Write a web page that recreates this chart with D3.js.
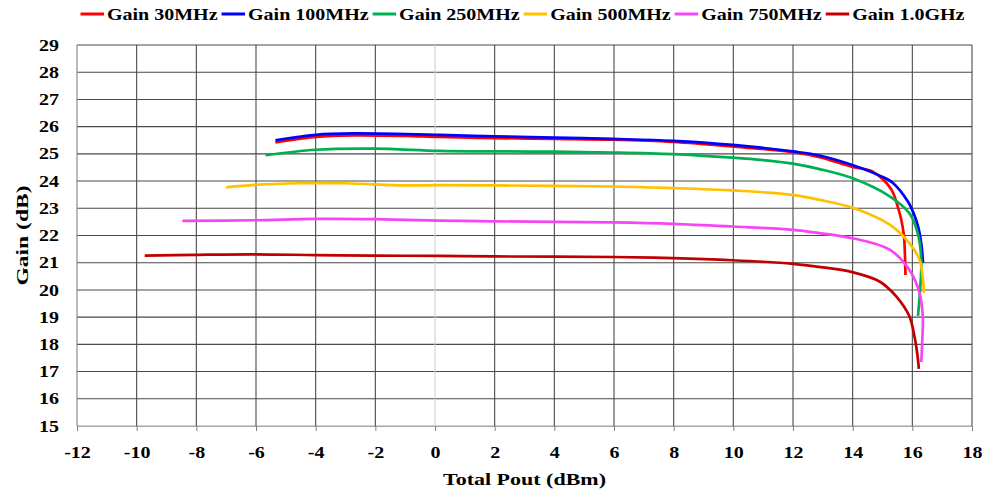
<!DOCTYPE html>
<html>
<head>
<meta charset="utf-8">
<script src="https://cdn.jsdelivr.net/npm/d3@7"></script>
<style>
  body { margin: 0; background: #fff; }
  svg text { font-family: "Liberation Serif", Tinos, "Times New Roman", Times, "DejaVu Serif", serif !important; font-weight: bold; fill: #000; }
</style>
</head>
<body>
<div id="chart"></div>
<script>
// Data: Total Pout (dBm) and Gain (dB) for each frequency
var seriesNames = ["Gain 30MHz", "Gain 100MHz", "Gain 250MHz", "Gain 500MHz", "Gain 750MHz", "Gain 1.0GHz"];
var seriesColors = ["#ff0000", "#0000ff", "#00b050", "#ffc000", "#f546f5", "#c00000"];

var pout30 = [-5.35, -4.0, -2.75, -1.0, 0.15, 2.0, 4.0, 5.96, 7.97, 9.98, 11.99, 12.89, 14.0, 14.66, 15.29, 15.5, 15.63, 15.72, 15.75, 15.77];
var gain30 = [25.42, 25.62, 25.68, 25.66, 25.62, 25.58, 25.55, 25.52, 25.44, 25.27, 25.06, 24.88, 24.52, 24.35, 23.7, 23.1, 22.58, 21.97, 21.36, 20.55];

var pout100 = [-5.35, -4.0, -2.75, 0.15, 2.0, 4.0, 5.96, 7.97, 9.98, 11.99, 12.89, 14.23, 14.9, 15.35, 15.85, 16.05, 16.2, 16.3, 16.36];
var gain100 = [25.5, 25.7, 25.75, 25.7, 25.64, 25.6, 25.55, 25.48, 25.33, 25.09, 24.94, 24.5, 24.2, 23.93, 23.25, 22.8, 22.3, 21.7, 21.0];

var pout250 = [-5.68, -4.0, -2.08, 0.15, 2.0, 4.0, 5.96, 7.97, 9.98, 11.0, 11.99, 12.89, 14.0, 15.24, 15.9, 16.18, 16.3, 16.26, 16.19];
var gain250 = [24.95, 25.15, 25.19, 25.11, 25.09, 25.08, 25.05, 24.99, 24.86, 24.77, 24.64, 24.44, 24.1, 23.44, 22.82, 22.09, 21.1, 20.0, 19.05];

var pout500 = [-7.0, -6.04, -4.54, -3.0, -1.0, 0.15, 2.0, 5.96, 7.97, 9.98, 11.0, 11.99, 12.89, 14.0, 15.24, 15.9, 16.24, 16.37, 16.38];
var gain500 = [23.77, 23.86, 23.92, 23.92, 23.84, 23.85, 23.84, 23.8, 23.74, 23.66, 23.59, 23.49, 23.31, 23.02, 22.4, 21.72, 21.11, 20.25, 19.9];

var pout750 = [-8.47, -6.04, -4.0, -2.08, 0.15, 2.0, 5.96, 7.97, 9.98, 11.99, 12.89, 14.0, 15.24, 15.9, 16.24, 16.35, 16.33, 16.3];
var gain750 = [22.54, 22.56, 22.61, 22.6, 22.55, 22.52, 22.48, 22.43, 22.33, 22.21, 22.09, 21.9, 21.48, 20.74, 19.89, 19.03, 18.05, 17.35];

var pout1g = [-9.73, -8.0, -6.04, -4.0, -2.08, 0.15, 2.0, 5.96, 7.97, 9.98, 11.99, 13.0, 14.0, 14.9, 15.46, 15.9, 16.07, 16.16, 16.22];
var gain1g = [21.26, 21.29, 21.31, 21.28, 21.26, 21.25, 21.23, 21.21, 21.17, 21.09, 20.96, 20.83, 20.65, 20.31, 19.76, 19.03, 18.3, 17.7, 17.1];

var xTicks = [-12, -10, -8, -6, -4, -2, 0, 2, 4, 6, 8, 10, 12, 14, 16, 18];
var yTicks = [15, 16, 17, 18, 19, 20, 21, 22, 23, 24, 25, 26, 27, 28, 29];

var allPout = [pout30, pout100, pout250, pout500, pout750, pout1g];
var allGain = [gain30, gain100, gain250, gain500, gain750, gain1g];

// Chart dimensions
var width = 987;
var height = 498;
var margin = { top: 45, right: 15, bottom: 72, left: 77 };
var plotWidth = width - margin.left - margin.right;
var plotHeight = height - margin.top - margin.bottom;

// the reference font is wider than Times, so stretch text a bit
function stretch(sel, k) {
    sel.each(function () {
        var w = this.getComputedTextLength();
        d3.select(this).attr("textLength", w * k).attr("lengthAdjust", "spacingAndGlyphs");
    });
}

var svg = d3.select("#chart")
    .append("svg")
    .attr("width", width)
    .attr("height", height);

var g = svg.append("g")
    .attr("transform", "translate(" + margin.left + "," + margin.top + ")");

// Scales
var xScale = d3.scaleLinear()
    .domain([-12, 18])
    .range([0, plotWidth]);

var yScale = d3.scaleLinear()
    .domain([15, 29])
    .range([plotHeight, 0]);

// Gridlines
g.append("g")
    .selectAll("line")
    .data(yTicks)
    .enter()
    .append("line")
    .attr("x1", 0)
    .attr("x2", plotWidth)
    .attr("y1", function (d) { return yScale(d); })
    .attr("y2", function (d) { return yScale(d); })
    .style("stroke", function (d) { return d === 15 ? "#a6a6a6" : "#4a4a4a"; })
    .style("stroke-width", 1.1);

g.append("g")
    .selectAll("line")
    .data(xTicks)
    .enter()
    .append("line")
    .attr("x1", function (d) { return xScale(d); })
    .attr("x2", function (d) { return xScale(d); })
    .attr("y1", 0)
    .attr("y2", plotHeight)
    .style("stroke", function (d) { return d === 0 ? "#d0d0d0" : (d === -12 ? "#808080" : "#4a4a4a"); })
    .style("stroke-width", 1.1);

// X axis (plain hyphen for negatives, like the original)
var xAxis = g.append("g")
    .attr("transform", "translate(0," + plotHeight + ")")
    .call(d3.axisBottom(xScale).tickValues(xTicks).tickFormat(function (d) { return String(d); })
        .tickSize(5).tickSizeOuter(0).tickPadding(16));

xAxis.select(".domain").style("stroke", "#a6a6a6");
xAxis.selectAll(".tick line").style("stroke", "#808080");
xAxis.selectAll("text")
    .style("font-size", "16px")
    .call(stretch, 1.25);

// Y axis
var yAxis = g.append("g")
    .call(d3.axisLeft(yScale).tickValues(yTicks).tickSize(0).tickPadding(18));

yAxis.select(".domain").remove();
yAxis.selectAll("text")
    .style("font-size", "16px")
    .call(stretch, 1.25);

// Axis titles
svg.append("text")
    .attr("x", margin.left + plotWidth / 2)
    .attr("y", 485)
    .style("text-anchor", "middle")
    .style("font-size", "17px")
    .attr("textLength", 163)
    .attr("lengthAdjust", "spacingAndGlyphs")
    .text("Total Pout (dBm)");

svg.append("text")
    .attr("transform", "translate(22," + (margin.top + yScale(22)) + ") rotate(-90)")
    .attr("dy", "0.35em")
    .style("text-anchor", "middle")
    .style("font-size", "17px")
    .attr("textLength", 100)
    .attr("lengthAdjust", "spacingAndGlyphs")
    .text("Gain (dB)");

// Curves
var line = d3.line()
    .x(function (d) { return xScale(d[0]); })
    .y(function (d) { return yScale(d[1]); })
    .curve(d3.curveCatmullRom.alpha(0.5));

seriesNames.forEach(function (name, i) {
    var pts = allPout[i].map(function (p, j) { return [p, allGain[i][j]]; });
    g.append("path")
        .datum(pts)
        .attr("d", line)
        .style("fill", "none")
        .style("stroke", seriesColors[i])
        .style("stroke-width", 2.7)
        .style("stroke-linejoin", "round");
});

// Legend
var legend = svg.append("g");
var lx = 80.5;
seriesNames.forEach(function (name, i) {
    legend.append("line")
        .attr("x1", lx)
        .attr("x2", lx + 23.5)
        .attr("y1", 14)
        .attr("y2", 14)
        .style("stroke", seriesColors[i])
        .style("stroke-width", 3);
    var t = legend.append("text")
        .attr("x", lx + 26.5)
        .attr("y", 20)
        .style("font-size", "16px")
        .text(name)
        .call(stretch, 1.25);
    lx = lx + 26.5 + (+t.attr("textLength")) + 4;
});
</script>
</body>
</html>
